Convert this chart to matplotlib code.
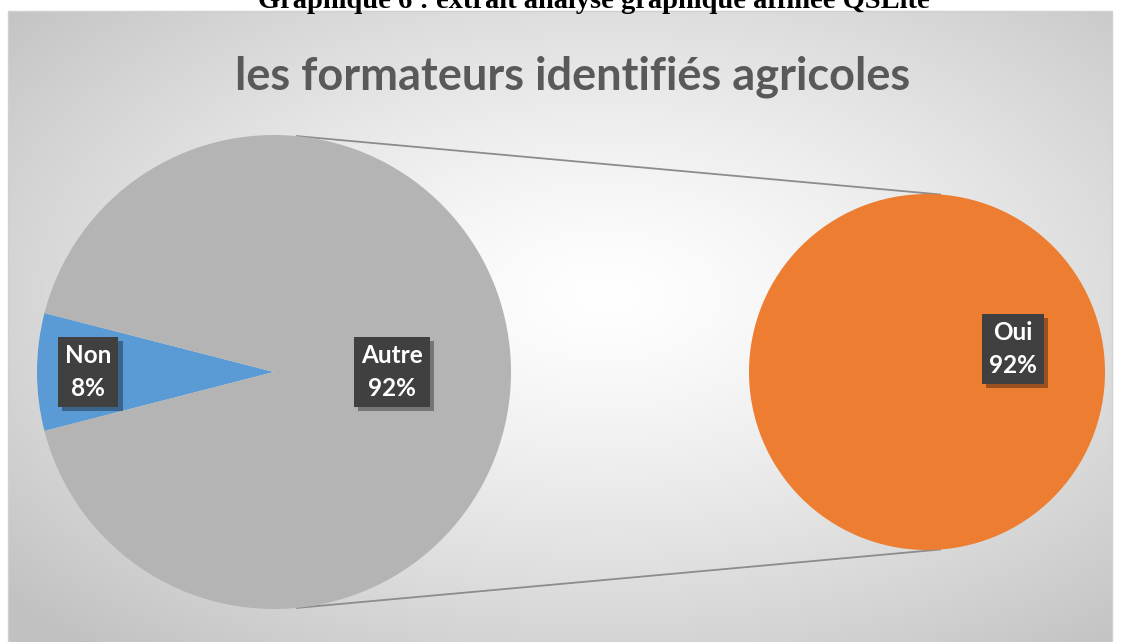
import numpy as np
import matplotlib
matplotlib.use("Agg")
import matplotlib.pyplot as plt
from matplotlib.patches import Rectangle
import matplotlib.patheffects as pe

# ---- data ----
main_labels = ["Non", "Autre"]
main_values = [8, 92]
sub_labels = ["Oui"]
sub_values = [92]
title = "les formateurs identifiés agricoles"
caption = "Graphique 6 : extrait analyse graphique affinée QSLite"

main_colors = ["#5B9BD5", "#B4B4B4"]
sub_colors = ["#ED7D31"]

W, H = 1123, 642
fig = plt.figure(figsize=(W / 100, H / 100), dpi=100)
fig.patch.set_facecolor("white")
ax = fig.add_axes([0, 0, 1, 1])
ax.set_xlim(0, W)
ax.set_ylim(0, H)
ax.axis("off")

# chart area with radial gradient
x0, y0, x1, y1 = 8, -5, 1112, H - 11
ny, nx = 200, 350
yy, xx = np.mgrid[0:ny, 0:nx]
cx, cy = nx * 0.54, ny * 0.55
r = np.sqrt(((xx - cx) / nx) ** 2 + ((yy - cy) / ny) ** 2)
r = np.clip(r / 0.72, 0, 1)
val = 1.0 - 0.24 * r ** 1.3
ax.imshow(np.dstack([val, val, val]), extent=(x0, x1, y0, y1), origin="lower",
          zorder=0, interpolation="bilinear", aspect="auto")
ax.add_patch(Rectangle((x0, y0), x1 - x0, y1 - y0, fill=False, ec="#D0D0D0", lw=1, zorder=1))

# main pie
c1 = (274, H - 372)
R1 = 237
half = 360 * main_values[0] / sum(main_values) / 2
wedges1, _ = ax.pie(main_values, colors=main_colors, center=c1, radius=R1,
                    startangle=180 - half, counterclock=True, frame=True,
                    wedgeprops=dict(linewidth=0))
# secondary pie
c2 = (927, H - 372)
R2 = 178
wedges2, _ = ax.pie(sub_values, colors=sub_colors, center=c2, radius=R2,
                    startangle=90, frame=True, wedgeprops=dict(linewidth=0))
for w in list(wedges1) + list(wedges2):
    w.set_zorder(3)
ax.set_xlim(0, W)
ax.set_ylim(0, H)
ax.axis("off")

# connector lines
a1 = np.deg2rad(90 - 5.5)
a2 = np.deg2rad(90 - 4.2)
for s in (1, -1):
    p1 = (c1[0] + R1 * np.cos(a1), c1[1] + s * R1 * np.sin(a1))
    p2 = (c2[0] + R2 * np.cos(a2), c2[1] + s * R2 * np.sin(a2))
    ax.plot([p1[0], p2[0]], [p1[1], p2[1]], color="#8C8C8C", lw=1.3, zorder=2)

# labels
lbl_font = "Lato"
def label(x, y, txt):
    t = ax.text(x, y, txt, ha="center", va="center", fontsize=17.5, fontweight="bold",
                color="white", family=lbl_font, linespacing=1.5, zorder=5,
                bbox=dict(boxstyle="square,pad=0.3", fc="#404040", ec="none"))
    t.get_bbox_patch().set_path_effects(
        [pe.SimplePatchShadow(offset=(3, -3), shadow_rgbFace="black", alpha=0.35), pe.Normal()])

label(88, H - 372, f"{main_labels[0]}\n{main_values[0]}%")
label(392, H - 372, f"{main_labels[1]}\n{main_values[1]}%")
label(1013, H - 349, f"{sub_labels[0]}\n{sub_values[0]}%")

# title
ax.text(573, H - 77, title, ha="center", va="center", fontsize=32.5, fontweight="bold",
        color="#595959", family="Lato", zorder=5)

# caption (cropped at top)
ax.text(594, H - 8, caption, ha="center", va="baseline", fontsize=20.5, fontweight="bold",
        color="black", family="Liberation Serif", zorder=5)

fig.savefig("out.png", dpi=100)
